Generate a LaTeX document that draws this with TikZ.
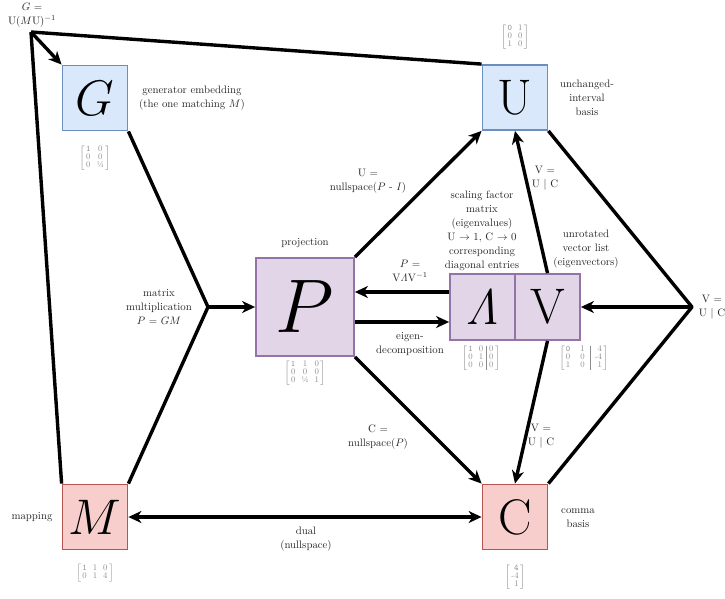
\RequirePackage{fix-cm}
\documentclass[tikz,border=0pt]{standalone}
\usepackage{tikz}
\usetikzlibrary{arrows.meta}

\definecolor{fillblue}{HTML}{DAE8FC}
\definecolor{lineblue}{HTML}{6C8EBF}
\definecolor{fillpurple}{HTML}{E1D5E7}
\definecolor{linepurple}{HTML}{9673A6}
\definecolor{fillred}{HTML}{F8CECC}
\definecolor{linered}{HTML}{B85450}
\definecolor{matgray}{HTML}{8C8C8C}

% small gray matrix under/over a box
\newcommand{\grmat}[3][3pt]{{\color{matgray}\setlength{\tabcolsep}{#1}$\left[\renewcommand{\arraystretch}{0.85}\begin{tabular}{@{\,}#2@{\,}}\ttfamily #3\end{tabular}\right]$}}

\tikzset{
  box/.style={draw, line width=1.8pt, minimum width=65pt, minimum height=65pt, inner sep=0pt, font=\fontsize{50}{50}\selectfont},
  bluebox/.style={box, fill=fillblue, draw=lineblue},
  purplebox/.style={box, fill=fillpurple, draw=linepurple},
  redbox/.style={box, fill=fillred, draw=linered},
  wire/.style={line width=3.4pt, line join=round},
  link/.style={wire, -{Stealth[length=13pt, width=12pt, inset=4pt]}},
  lbl/.style={align=center, inner sep=0pt, text=black!85, font=\fontsize{10.8}{14}\selectfont},
  mat/.style={inner sep=0pt, font=\fontsize{8.5}{9.5}\selectfont},
}

\begin{document}
\begin{tikzpicture}[x=1pt, y=-1pt]

  %% ════ boxes ════
  \node[bluebox] (G) at (95,98) {$G$};
  \node[bluebox] (U) at (515,97.5) {U};
  \node[purplebox, minimum width=98pt, minimum height=98pt, font=\fontsize{76}{76}\selectfont] (P) at (305,307) {$P$};
  \node[purplebox, minimum height=66pt] (Lam) at (482.5,307) {$\mathit{\Lambda}$};
  \node[purplebox, minimum height=66pt] (V) at (547.5,307) {V};
  \node[redbox] (M) at (95,517) {$M$};
  \node[redbox] (C) at (515,517) {C};

  %% ════ junctions ════
  \coordinate (top) at (31,32);
  \coordinate (mul) at (208,307);
  \coordinate (split) at (692,307);

  %% ════ connectors ════
  \draw[link] (top) -- (G.north west);
  \draw[wire] (top) -- (U.north west);
  \draw[wire] (top) -- (M.north west);
  \draw[wire] (G.south east) -- (mul) -- (M.north east);
  \draw[link] (mul) -- (P.west);
  \draw[link] (P.north east) -- (U.south west);
  \draw[link] (P.south east) -- (C.north west);
  \draw[link] ([yshift=15pt]Lam.west) -- ([yshift=15pt]P.east);
  \draw[link] ([yshift=-15pt]P.east) -- ([yshift=-15pt]Lam.west);
  \draw[link] (V.north) -- (U.south);
  \draw[link] (V.south) -- (C.north);
  \draw[wire] (U.south east) -- (split) -- (C.north east);
  \draw[link] (split) -- (V.east);
  \draw[link, {Stealth[length=13pt, width=12pt, inset=4pt]}-{Stealth[length=13pt, width=12pt, inset=4pt]}] (M.east) -- (C.west);

  %% ════ labels ════
  \node[lbl] (topl) at (32,15) {$G$ =\\U($M$U)$^{-1}$};
  \node[lbl] (Gl) at (192,98) {generator embedding\\(the one matching $M$)};
  \node[lbl] (Ul) at (587,98) {unchanged-\\interval\\basis};
  \node[lbl] (Pl) at (305,243) {projection};
  \node[lbl] (mull) at (159,307) {matrix\\multiplication\\$P$ = $GM$};
  \node[lbl] (PUl) at (368,181) {U =\\nullspace($P$ - $I$)};
  \node[lbl] (PCl) at (378,437) {C =\\nullspace($P$)};
  \node[lbl] (LPl) at (410,271) {$P$ =\\V$\mathit{\Lambda}$V$^{-1}$};
  \node[lbl] (PLl) at (410,344) {eigen-\\decomposition};
  \node[lbl] (Laml) at (482,231) {scaling factor\\matrix\\(eigenvalues)\\U $\rightarrow$ 1, C $\rightarrow$ 0\\corresponding\\diagonal entries};
  \node[lbl] (Vl) at (586,249) {unrotated\\vector list\\(eigenvectors)};
  \node[lbl] (VUl) at (545,178) {V =\\U | C};
  \node[lbl] (VCl) at (541,436) {V =\\U | C};
  \node[lbl] (splitl) at (712,307) {V =\\U | C};
  \node[lbl] (Ml) at (32,517) {mapping};
  \node[lbl] (Cl) at (578,518) {comma\\basis};
  \node[lbl] (MCl) at (306,539) {dual\\(nullspace)};

  %% ════ matrices ════
  \node[mat] (Gm) at (95,158) {\grmat{cc}{1 & 0\\0 & 0\\0 & ¼}};
  \node[mat] (Um) at (515,37) {\grmat{cc}{0 & 1\\0 & 0\\1 & 0}};
  \node[mat] (Pm) at (305,373) {\grmat{ccc}{1 & 1 & 0\\0 & 0 & 0\\0 & ¼ & 1}};
  \node[mat] (Lamm) at (481,358) {\grmat{cc|c}{1 & 0 & 0\\0 & 1 & 0\\0 & 0 & 0}};
  \node[mat] (Vm) at (584,358) {\grmat[5pt]{cc|r}{0 & 1 & 4\\0 & 0 & -4\\1 & 0 & 1}};
  \node[mat] (Mm) at (95,573) {\grmat{ccc}{1 & 1 & 0\\0 & 1 & 4}};
  \node[mat] (Cm) at (515,577) {\grmat{r}{4\\-4\\1}};

  % fix the canvas to the reference size
  \pgfresetboundingbox
  \path[use as bounding box] (0,0) rectangle (725,599);
\end{tikzpicture}
\end{document}
